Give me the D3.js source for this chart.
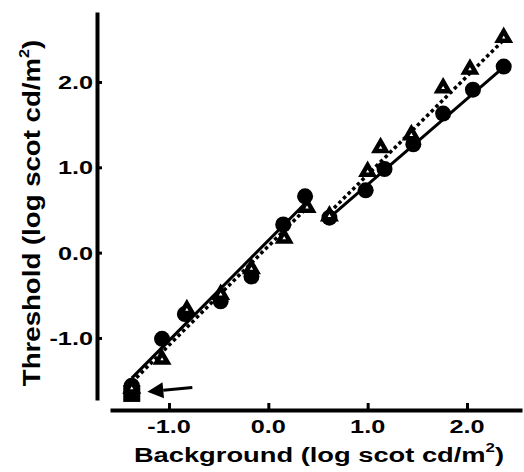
<!DOCTYPE html>
<html>
<head>
<meta charset="utf-8">
<script src="https://cdn.jsdelivr.net/npm/d3@7"></script>
<style>
  body { margin: 0; background: #fff; }
  text { font-family: "Liberation Sans", Arial, sans-serif; font-weight: bold; fill: #000; }
</style>
</head>
<body>
<svg id="chart" width="524" height="472"></svg>
<script>
// values (log scot cd/m2)
const circleX = [-1.375, -1.07, -0.84, -0.48, -0.17, 0.15, 0.37, 0.615, 0.98, 1.17, 1.46, 1.76, 2.06, 2.37];
const circleY = [-1.56, -1.01, -0.72, -0.57, -0.28, 0.33, 0.66, 0.41, 0.73, 0.98, 1.27, 1.63, 1.91, 2.18];
const triangleX = [-1.375, -1.07, -0.82, -0.48, -0.17, 0.16, 0.39, 0.615, 1.0, 1.13, 1.44, 1.76, 2.03, 2.37];
const triangleY = [-1.59, -1.25, -0.67, -0.49, -0.19, 0.17, 0.53, 0.43, 0.95, 1.23, 1.38, 1.93, 2.15, 2.52];
const squareX = [-1.375];
const squareY = [-1.65];

// fitted lines: [x0, y0, x1, y1]
const solidFits = [[-1.375, -1.47, 0.39, 0.60], [0.615, 0.41, 2.376, 2.18]];
const dottedFits = [[-1.375, -1.52, 0.40, 0.54], [0.615, 0.47, 2.376, 2.50]];

// arrow pointing at the square: [tailX, tailY, tipX, tipY]
const arrow = [-0.765, -1.58, -1.218, -1.63];

const tickValues = [-1, 0, 1, 2];
const tickLabels = ['-1.0', '0.0', '1.0', '2.0'];
const xDomain = [-1.594, 2.554];
const yDomain = [-1.727, 2.82];

const svg = d3.select('#chart');

const x = d3.scaleLinear().domain(xDomain).range([110, 522]);
const y = d3.scaleLinear().domain(yDomain).range([400, 12]);

// axes
const yAxis = svg.append('g')
    .attr('transform', 'translate(97,0)')
    .call(d3.axisRight(y).tickValues(tickValues).tickSize(5).tickSizeOuter(0).tickFormat(''));
const xAxis = svg.append('g')
    .attr('transform', 'translate(0,410)')
    .call(d3.axisTop(x).tickValues(tickValues).tickSize(7).tickSizeOuter(0).tickFormat(''));
[yAxis, xAxis].forEach((ax) => {
    ax.select('.domain').attr('stroke', '#000').attr('stroke-width', 4);
    ax.selectAll('.tick line').attr('stroke', '#000').attr('stroke-width', 3);
});

svg.selectAll('.ytl')
    .data(tickValues)
    .enter()
    .append('text')
    .attr('class', 'ytl')
    .attr('transform', (d) => `translate(93,${y(d) + 7}) scale(1.33,1)`)
    .attr('text-anchor', 'end')
    .attr('font-size', 19)
    .text((d, i) => tickLabels[i]);

svg.selectAll('.xtl')
    .data(tickValues)
    .enter()
    .append('text')
    .attr('class', 'xtl')
    .attr('transform', (d) => `translate(${x(d)},433) scale(1.33,1)`)
    .attr('text-anchor', 'middle')
    .attr('font-size', 19)
    .text((d, i) => tickLabels[i]);

// axis titles
const xt = svg.append('text')
    .attr('transform', 'translate(319,462) scale(1.3,1)')
    .attr('text-anchor', 'middle')
    .attr('font-size', 21);
xt.append('tspan').text('Background (log scot cd/m');
xt.append('tspan').attr('font-size', 13).attr('dy', -10).text('2');
xt.append('tspan').attr('dy', 10).text(')');

const yt = svg.append('text')
    .attr('transform', 'translate(40,213) rotate(-90) scale(1.15,1)')
    .attr('text-anchor', 'middle')
    .attr('font-size', 24);
yt.append('tspan').text('Threshold (log scot cd/m');
yt.append('tspan').attr('font-size', 14).attr('dy', -11).text('2');
yt.append('tspan').attr('dy', 11).text(')');

// fit lines
svg.selectAll('.solid')
    .data(solidFits)
    .enter()
    .append('line')
    .attr('x1', (d) => x(d[0])).attr('y1', (d) => y(d[1]))
    .attr('x2', (d) => x(d[2])).attr('y2', (d) => y(d[3]))
    .attr('stroke', '#000')
    .attr('stroke-width', 3);

svg.selectAll('.dotted')
    .data(dottedFits)
    .enter()
    .append('line')
    .attr('x1', (d) => x(d[0])).attr('y1', (d) => y(d[1]))
    .attr('x2', (d) => x(d[2])).attr('y2', (d) => y(d[3]))
    .attr('stroke', '#000')
    .attr('stroke-width', 3.5)
    .attr('stroke-dasharray', '3.5,3');

// markers
svg.selectAll('.sq')
    .data(squareX)
    .enter()
    .append('path')
    .attr('d', d3.symbol().type(d3.symbolSquare).size(290))
    .attr('transform', (d, i) => `translate(${x(d)},${y(squareY[i])})`)
    .attr('fill', '#000');

svg.selectAll('.circ')
    .data(circleX)
    .enter()
    .append('circle')
    .attr('cx', (d) => x(d))
    .attr('cy', (d, i) => y(circleY[i]))
    .attr('r', 8)
    .attr('fill', '#000');

svg.selectAll('.tri')
    .data(triangleX)
    .enter()
    .append('path')
    .attr('d', d3.symbol().type(d3.symbolTriangle).size(55))
    .attr('transform', (d, i) => `translate(${x(d)},${y(triangleY[i])})`)
    .attr('fill', '#fff')
    .attr('stroke', '#000')
    .attr('stroke-width', 4.5)
    .attr('stroke-linejoin', 'miter');

// arrow
const tail = [x(arrow[0]), y(arrow[1])];
const tip = [x(arrow[2]), y(arrow[3])];
const ang = Math.atan2(tip[1] - tail[1], tip[0] - tail[0]);
const headLen = 16;
const headHalf = 8;
const base = [tip[0] - headLen * Math.cos(ang), tip[1] - headLen * Math.sin(ang)];
svg.append('line')
    .attr('x1', tail[0]).attr('y1', tail[1])
    .attr('x2', base[0]).attr('y2', base[1])
    .attr('stroke', '#000')
    .attr('stroke-width', 3);
svg.append('path')
    .attr('d', `M${tip[0]},${tip[1]}`
        + `L${base[0] - headHalf * Math.sin(ang)},${base[1] + headHalf * Math.cos(ang)}`
        + `L${base[0] + headHalf * Math.sin(ang)},${base[1] - headHalf * Math.cos(ang)}Z`)
    .attr('fill', '#000');
</script>
</body>
</html>
